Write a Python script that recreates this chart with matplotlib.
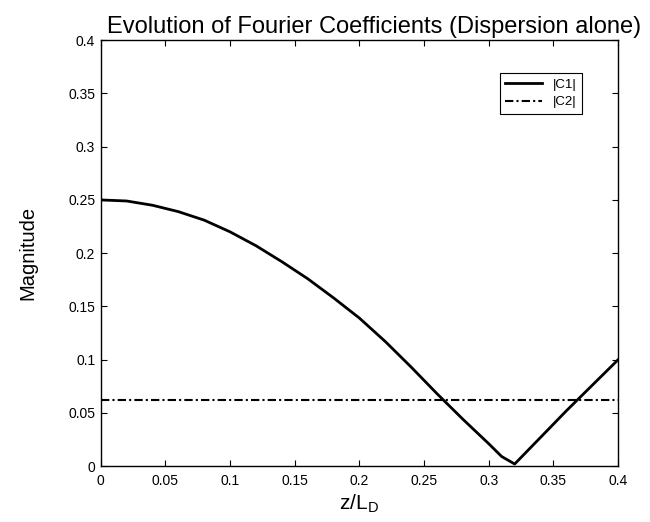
import matplotlib
matplotlib.use("Agg")
import matplotlib.pyplot as plt

plt.rcParams['font.family'] = ['Liberation Sans', 'DejaVu Sans']
plt.rcParams['mathtext.default'] = 'regular'

z = [0, 0.02, 0.04, 0.06, 0.08, 0.10, 0.12, 0.14, 0.16, 0.18, 0.20, 0.22,
     0.24, 0.26, 0.28, 0.30, 0.31, 0.32, 0.34, 0.36, 0.38, 0.40]
c1 = [0.250, 0.249, 0.245, 0.239, 0.231, 0.220, 0.207, 0.192, 0.176, 0.158,
      0.139, 0.117, 0.093, 0.068, 0.044, 0.021, 0.009, 0.002, 0.027, 0.052,
      0.076, 0.100]
c2 = [0.0625] * len(z)

xticks = [0, 0.05, 0.1, 0.15, 0.2, 0.25, 0.3, 0.35, 0.4]
yticks = [0, 0.05, 0.1, 0.15, 0.2, 0.25, 0.3, 0.35, 0.4]

fig = plt.figure(figsize=(6.5, 5.22), dpi=100)
ax = fig.add_axes([0.155, 0.107, 0.796, 0.816])
ax.plot(z, c1, color='black', lw=2.0, label='|C1|')
ax.plot(z, c2, color='black', lw=1.5, ls=(0, (4, 1.5, 1, 1.5)), label='|C2|')

ax.set_xlim(0, 0.4)
ax.set_ylim(0, 0.4)
ax.set_xticks(xticks)
ax.set_yticks(yticks)
ax.set_xticklabels([f'{t:g}' for t in xticks])
ax.set_yticklabels([f'{t:g}' for t in yticks])
ax.tick_params(direction='in', top=True, right=True, labelsize=10, length=4, width=0.8)
ax.tick_params(axis='x', pad=6)
ax.tick_params(axis='y', pad=4)
for s in ax.spines.values():
    s.set_linewidth(1.0)

ax.set_title('Evolution of Fourier Coefficients (Dispersion alone)', fontsize=17, pad=5, x=0.528)
ax.set_xlabel(r'z/L$_{D}$', fontsize=15, labelpad=3)
ax.set_ylabel('Magnitude', fontsize=14.5, labelpad=22)

leg = ax.legend(loc='upper right', bbox_to_anchor=(0.930, 0.922), borderaxespad=0, fontsize=9.5,
                fancybox=False, framealpha=1, edgecolor='black',
                handlelength=2.8, borderpad=0.4, labelspacing=0.4)
leg.get_frame().set_linewidth(0.8)

fig.savefig('out.png', dpi=100)
